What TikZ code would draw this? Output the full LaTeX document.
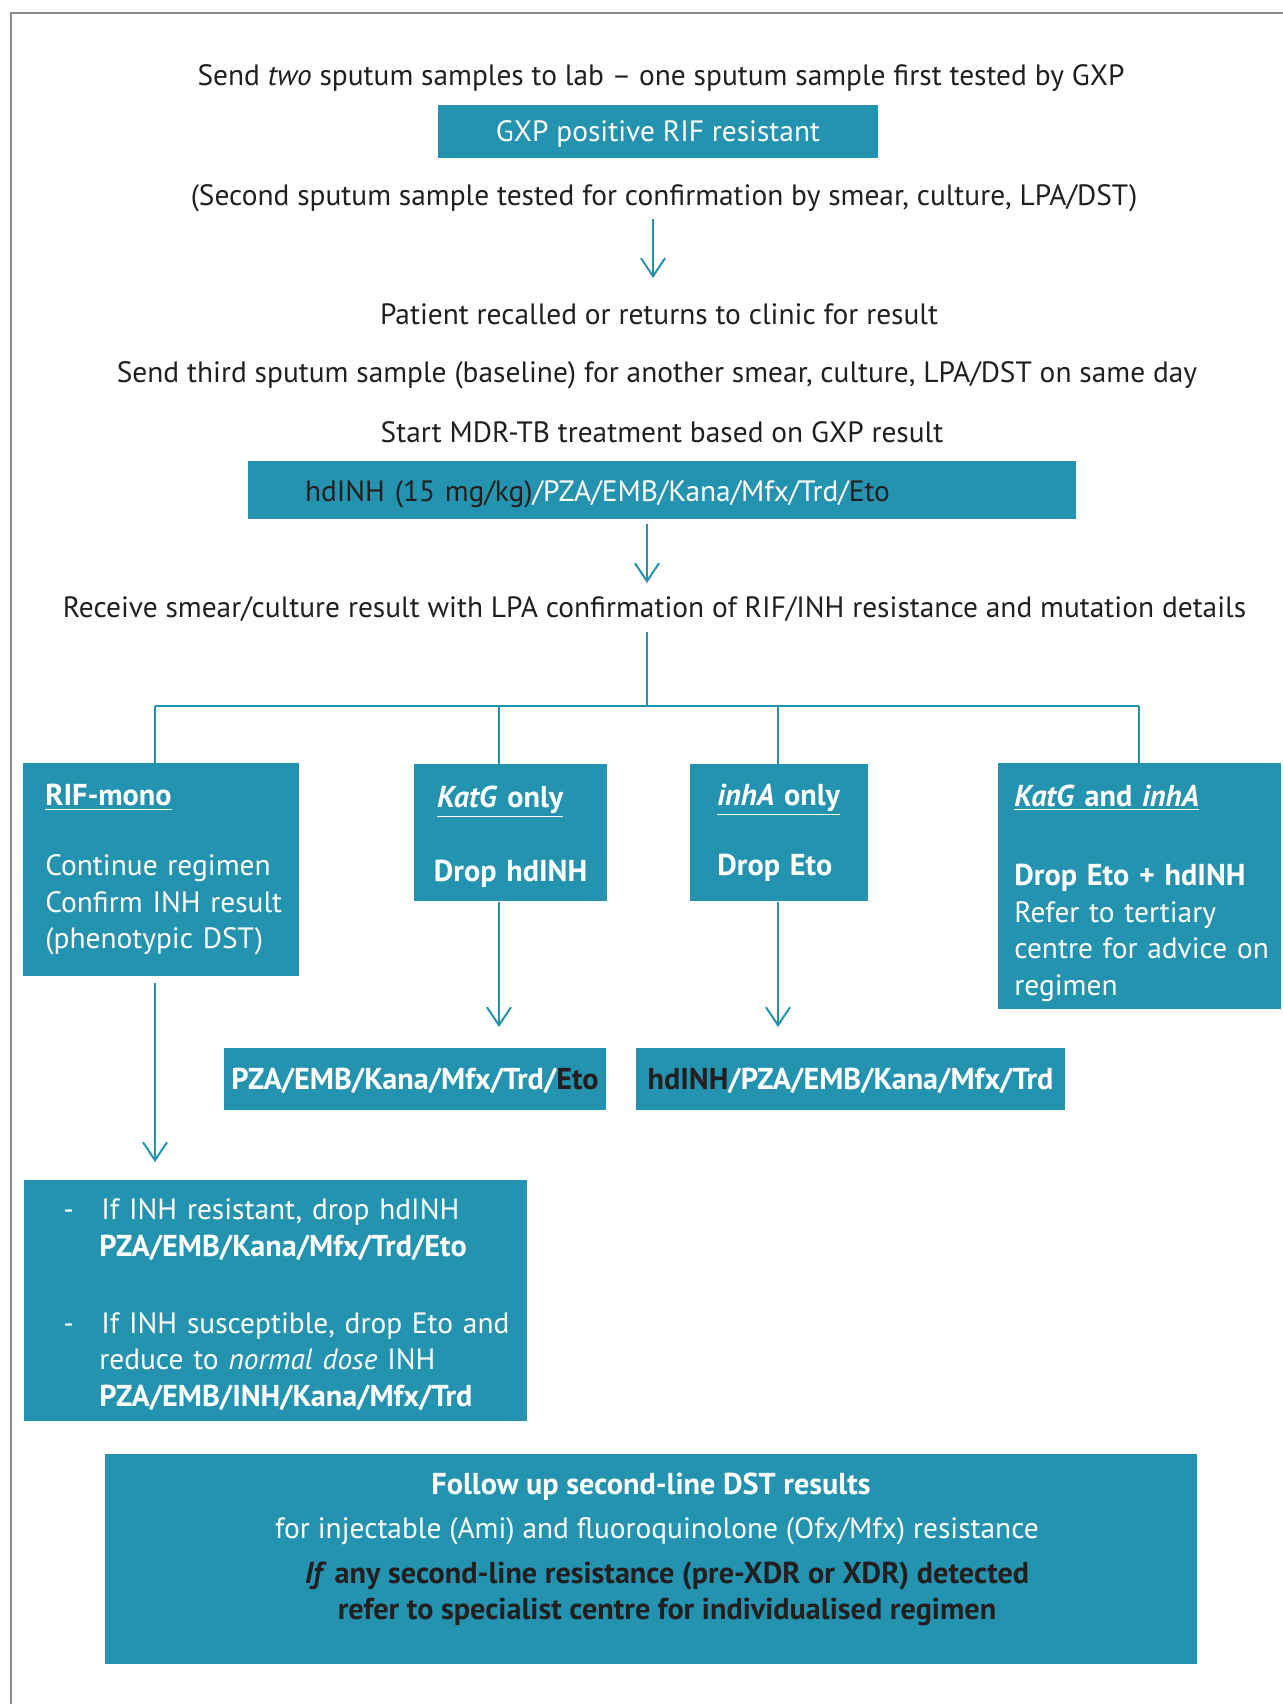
\documentclass[tikz,border=0pt]{standalone}
\usepackage{fontspec}
\setmainfont{PT Sans}
\usetikzlibrary{arrows.meta}
\definecolor{teal1}{HTML}{2493B0}
\definecolor{ink}{HTML}{231F20}
\definecolor{framegray}{HTML}{8C8C8C}
\newcommand\bfs{\fontsize{14.7}{18.25}\selectfont}
\newcommand\bb[1]{{\fontsize{15.1}{18.25}\selectfont\bfseries #1}}
\newcommand\dropdown[2]{\raisebox{-#1}[\height][\depth]{#2}}
\begin{document}
\begin{tikzpicture}[x=0.5pt,y=-0.5pt,
  txt/.style={font=\bfs, text=ink, inner sep=0pt},
  box/.style={fill=teal1, draw=none, text=white, font=\bfs, inner sep=0pt},
  conn/.style={draw=teal1, line width=1pt},
  arr/.style={conn, -{Straight Barb[length=9pt,width=12pt]}}]
\useasboundingbox (0,0) rectangle (1283,1704);
% frame
\coordinate (fbl) at (11,1704);
\coordinate (ftl) at (11,13);
\coordinate (ftr) at (1283,13);
\draw[framegray, line width=0.8pt] (fbl) -- (ftl) -- (ftr);
% top part
\node[txt] (t1) at (661,78) {Send \textit{two} sputum samples to lab – one sputum sample first tested by GXP};
\node[box, minimum width=220pt, minimum height=26.5pt] (gxp) at (658,131.5) {\dropdown{1.1pt}{GXP positive RIF resistant}};
\node[txt] (t2) at (664,198) {(Second sputum sample tested for confirmation by smear, culture, LPA/DST)};
\coordinate (a1s) at (653,219);
\coordinate (a1e) at (653,278);
\draw[arr] (a1s) -- (a1e);
\node[txt] (t3) at (659,314) {Patient recalled or returns to clinic for result};
\node[txt] (t4) at (657,375) {Send third sputum sample (baseline) for another smear, culture, LPA/DST on same day};
\node[txt] (t5) at (662,432) {Start MDR-TB treatment based on GXP result};
\node[box, minimum width=414pt, minimum height=29pt, inner xsep=28.5pt, text width=357pt, align=left] (hd) at (662,490)
  {\dropdown{2.2pt}{\textcolor{ink}{hdINH (15 mg/kg)}/PZA/EMB/Kana/Mfx/Trd/\textcolor{ink}{Eto}}};
\coordinate (a2s) at (647,524);
\coordinate (a2e) at (647,583);
\draw[arr] (a2s) -- (a2e);
\node[txt] (t6) at (654.5,609) {Receive smear/culture result with LPA confirmation of RIF/INH resistance and mutation details};
% tree
\coordinate (top6) at (647,632);
\coordinate (hub) at (647,706);
\coordinate (d1) at (155,706);
\coordinate (d2) at (499,706);
\coordinate (d3) at (778,706);
\coordinate (d4) at (1139,706);
% boxes
\node[box, anchor=north west, minimum width=138pt, minimum height=106.5pt, inner xsep=11pt, text width=116pt, align=left] (rif) at (23,763)
  {\mbox{\underline{\bb{RIF-mono}}}\\[16.75pt]\mbox{Continue regimen}\\\mbox{Confirm INH result}\\\mbox{(phenotypic DST)}};
\node[box, anchor=north west, minimum width=96.5pt, minimum height=68.5pt, inner xsep=9.75pt, text width=77pt, align=left] (katg) at (414,764)
  {\mbox{\rule{0pt}{14.7pt}\hspace*{1.6pt}\underline{\bb{\textit{KatG} only}}}\\[18.75pt]\mbox{\bb{Drop hdINH}}};
\node[box, anchor=north west, minimum width=89pt, minimum height=68.5pt, inner xsep=13.5pt, text width=62pt, align=left] (inha) at (690,764)
  {\mbox{\underline{\bb{\textit{inhA} only}}}\\[16.75pt]\mbox{\bb{Drop Eto}}};
\node[box, anchor=north west, minimum width=141.5pt, minimum height=123pt, inner xsep=8pt, text width=125.5pt, align=left] (both) at (998,763)
  {\mbox{\rule{0pt}{17.5pt}\underline{\bb{\textit{KatG} and \textit{inhA}}}}\\[21.25pt]\mbox{\bb{Drop Eto + hdINH}}\\\mbox{Refer to tertiary}\\\mbox{centre for advice on}\\\mbox{regimen}};
\draw[conn] (top6) -- (hub);
\draw[conn] (d1) -- (d4);
\draw[conn] (d1) -- (d1 |- rif.north);
\draw[conn] (d2) -- (d2 |- katg.north);
\draw[conn] (d3) -- (d3 |- inha.north);
\draw[conn] (d4) -- (d4 |- both.north);
% results
\node[box, minimum width=191pt, minimum height=31pt] (r1) at (415,1079)
  {\dropdown{1.1pt}{\bb{PZA/EMB/Kana/Mfx/Trd/\textcolor{ink}{Eto}}}};
\node[box, minimum width=214.5pt, minimum height=31pt] (r2) at (850.5,1079)
  {\dropdown{1.1pt}{\bb{\textcolor{ink}{hdINH}/PZA/EMB/Kana/Mfx/Trd}}};
\coordinate (e2) at (499,1027);
\coordinate (e3) at (778,1027);
\draw[arr] (katg.south -| d2) -- (e2);
\draw[arr] (inha.south -| d3) -- (e3);
% bottom-left
\coordinate (e1) at (155,1162);
\draw[arr] ([yshift=-3pt]rif.south -| d1) -- (e1);
\node[box, anchor=north west, minimum width=251.5pt, minimum height=120.5pt, inner xsep=19.5pt, text width=212.5pt, align=left] (bl) at (24,1180)
  {\mbox{\rule{0pt}{14pt}\makebox[19pt][l]{-}If INH resistant, drop hdINH}\\
   \mbox{\hspace*{18pt}\bb{PZA/EMB/Kana/Mfx/Trd/Eto}}\\[20.25pt]
   \mbox{\makebox[19pt][l]{-}If INH susceptible, drop Eto and}\\
   \mbox{\hspace*{18pt}reduce to \textit{normal dose} INH}\\
   \mbox{\hspace*{18pt}\bb{PZA/EMB/INH/Kana/Mfx/Trd}}};
% bottom box
\node[box, anchor=north west, minimum width=546pt, minimum height=105pt] (bb) at (105,1454) {};
\node[txt, text=white, align=center] (bbt) at (651,1549.5)
  {\bb{Follow up second-line DST results}\\[3.75pt]
   \hspace*{6pt}for injectable (Ami) and fluoroquinolone (Ofx/Mfx) resistance\\[4.25pt]
   \hspace*{16pt}\textcolor{ink}{\bb{\textit{If} any second-line resistance (pre-XDR or XDR) detected}}\\
   \hspace*{16pt}\textcolor{ink}{\bb{refer to specialist centre for individualised regimen}}};
\end{tikzpicture}
\end{document}
